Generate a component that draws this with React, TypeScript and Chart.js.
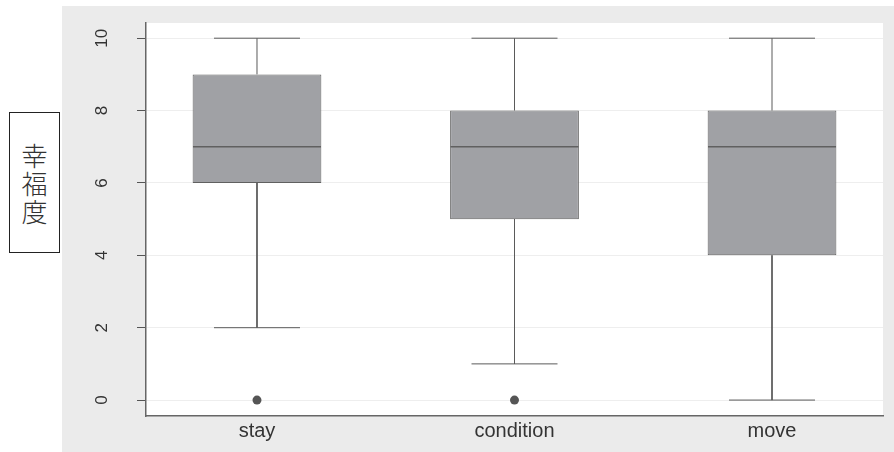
import React, { useEffect, useRef } from 'react';
import { Chart, registerables } from 'chart.js';

Chart.register(...registerables);

// ---- data ----
const categories = ['stay', 'condition', 'move'];
const whiskerLow = [2, 1, 0];
const q1 = [6, 5, 4];
const median = [7, 7, 7];
const q3 = [9, 8, 8];
const whiskerHigh = [10, 10, 10];
const outliers: number[][] = [[0], [0], []];
const yTicks = [0, 2, 4, 6, 8, 10];
const yTitle = '幸福度';

const plotBg = {
  id: 'plotBg',
  beforeDraw(chart: any) {
    const { ctx, chartArea: a } = chart;
    ctx.save();
    ctx.fillStyle = '#ffffff';
    ctx.fillRect(a.left, a.top, a.right - a.left, a.bottom - a.top);
    ctx.restore();
  },
};

export default function App() {
  const ref = useRef<HTMLCanvasElement | null>(null);

  useEffect(() => {
    if (!ref.current) return;
    const xs = categories.map((_, i) => i + 1);

    const datasets: any[] = [];
    datasets.push({
      type: 'bar',
      data: xs.map((x, i) => ({ x, y: [q1[i], q3[i]] })),
      backgroundColor: '#a0a1a5',
      borderColor: '#606060',
      borderWidth: 1,
      borderSkipped: false,
      barPercentage: 0.5,
      categoryPercentage: 1,
      order: 5,
    });
    xs.forEach((x, i) => {
      datasets.push({
        type: 'line',
        data: [{ x, y: q3[i] }, { x, y: whiskerHigh[i] }],
        borderColor: '#5a5a5a',
        borderWidth: 1,
        pointRadius: 0,
        order: 4,
      });
      datasets.push({
        type: 'line',
        data: [{ x, y: q1[i] }, { x, y: whiskerLow[i] }],
        borderColor: '#5a5a5a',
        borderWidth: 1,
        pointRadius: 0,
        order: 4,
      });
    });
    // whisker caps
    datasets.push({
      type: 'line',
      showLine: false,
      data: xs.flatMap((x, i) => [{ x, y: whiskerHigh[i] }, { x, y: whiskerLow[i] }]),
      pointStyle: 'line',
      pointRadius: 43,
      pointBorderColor: '#5a5a5a',
      pointBorderWidth: 1,
      order: 3,
    });
    // medians
    datasets.push({
      type: 'line',
      showLine: false,
      data: xs.map((x, i) => ({ x, y: median[i] })),
      pointStyle: 'line',
      pointRadius: 64,
      pointBorderColor: '#606060',
      pointBorderWidth: 1.5,
      order: 2,
    });
    // outliers
    datasets.push({
      type: 'line',
      showLine: false,
      data: xs.flatMap((x, i) => outliers[i].map((v) => ({ x, y: v }))),
      pointStyle: 'circle',
      pointRadius: 4.5,
      pointBackgroundColor: '#555555',
      pointBorderWidth: 0,
      order: 1,
    });

    const chart = new Chart(ref.current, {
      type: 'bar',
      data: { datasets },
      plugins: [plotBg],
      options: {
        responsive: false,
        animation: false,
        events: [],
        layout: { autoPadding: false, padding: { top: 17, right: 11, left: 0, bottom: 0 } },
        plugins: { legend: { display: false }, tooltip: { enabled: false } },
        scales: {
          x: {
            type: 'linear',
            min: 0.569,
            max: 3.431,
            offset: false,
            grid: { display: false, drawTicks: false, offset: false },
            border: { display: true, color: '#666666', width: 1.5 },
            afterBuildTicks: (s: any) => {
              s.ticks = xs.map((v) => ({ value: v }));
            },
            afterFit: (s: any) => {
              s.height = 36;
              s.paddingLeft = 0;
              s.paddingRight = 0;
            },
            ticks: {
              autoSkip: false,
              maxRotation: 0,
              minRotation: 0,
              padding: 3,
              color: '#333333',
              font: { family: 'Liberation Sans, Arial, sans-serif', size: 20 },
              callback: (v: any) => categories[Number(v) - 1] ?? '',
            },
          },
          y: {
            type: 'linear',
            min: -0.44,
            max: 10.42,
            afterBuildTicks: (s: any) => {
              s.ticks = yTicks.map((v) => ({ value: v }));
            },
            afterFit: (s: any) => {
              s.width = 84;
              s.paddingTop = 0;
              s.paddingBottom = 0;
            },
            grid: {
              color: '#eeeeee',
              lineWidth: 1,
              tickColor: '#555555',
              tickLength: 9,
              tickWidth: 1,
              drawTicks: true,
            },
            border: { display: true, color: '#666666', width: 1.5 },
            ticks: {
              minRotation: 90,
              maxRotation: 90,
              crossAlign: 'center',
              padding: 25,
              color: '#333333',
              font: { family: 'Liberation Sans, Arial, sans-serif', size: 17 },
            },
          },
        },
      } as any,
    });
    return () => chart.destroy();
  }, []);

  return (
    <div style={{ position: 'absolute', left: 0, top: 0, width: 894, height: 452, background: '#ffffff' }}>
      <div
        style={{
          position: 'absolute',
          left: 9,
          top: 112,
          width: 49,
          height: 139,
          border: '1px solid #222',
          display: 'flex',
          flexDirection: 'column',
          alignItems: 'center',
          justifyContent: 'center',
          fontFamily: '"Noto Sans CJK JP", "Noto Sans CJK SC", sans-serif',
          fontWeight: 300,
          fontSize: 26,
          lineHeight: '28px',
          color: '#333',
        }}
      >
        {yTitle.split('').map((c, i) => (
          <span key={i}>{c}</span>
        ))}
      </div>
      <div style={{ position: 'absolute', left: 62, top: 6, width: 832, height: 446, background: '#ebebeb' }}>
        <canvas ref={ref} width={832} height={446} style={{ display: 'block' }} />
      </div>
    </div>
  );
}
